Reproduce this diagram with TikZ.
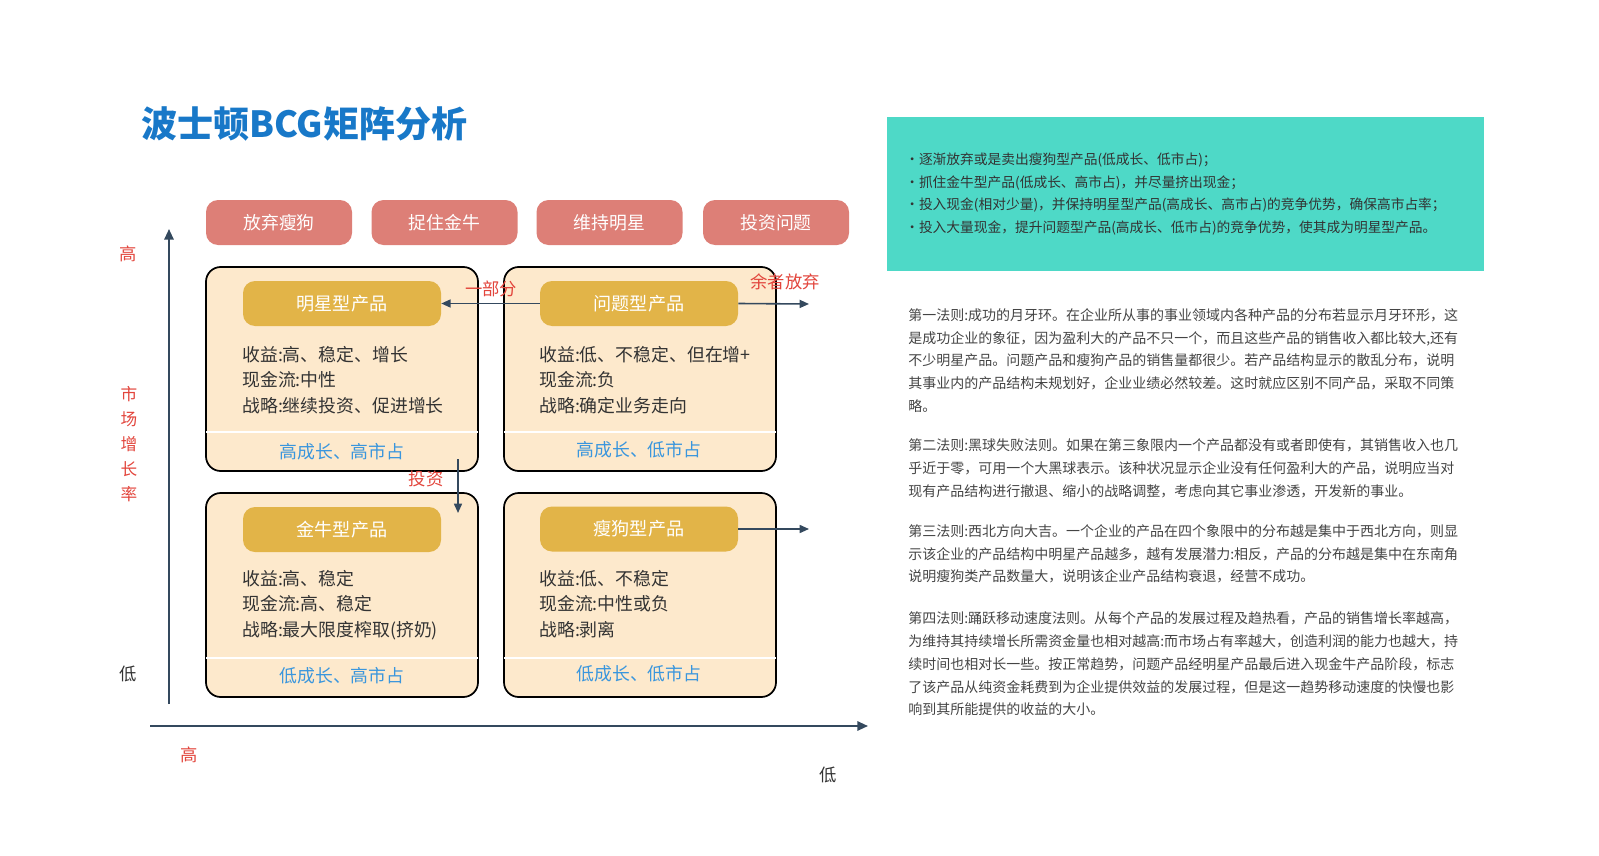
\documentclass[tikz,border=0pt]{standalone}
\usepackage{fontspec}
\setmainfont{Noto Sans CJK SC}
\usetikzlibrary{arrows.meta}

\definecolor{titleblue}{RGB}{24,120,200}
\definecolor{btnred}{RGB}{221,127,119}
\definecolor{peach}{RGB}{253,233,204}
\definecolor{gold}{RGB}{226,180,72}
\definecolor{tagblue}{RGB}{58,150,221}
\definecolor{notered}{RGB}{226,69,60}
\definecolor{axisblue}{RGB}{52,73,94}
\definecolor{tealbox}{RGB}{78,217,199}
\definecolor{textgray}{RGB}{51,51,51}
\definecolor{paragray}{RGB}{68,68,68}

\begin{document}
\begin{tikzpicture}[x=0.75pt, y=-0.75pt,
    btn/.style={fill=btnred, rounded corners=9pt, minimum width=109.5pt, minimum height=33.75pt,
        text=white, font=\fontsize{13.4pt}{16pt}\selectfont},
    quad/.style={fill=peach, draw=black, line width=1.3pt, rounded corners=11pt,
        minimum width=204pt, minimum height=153pt},
    ptitle/.style={fill=gold, rounded corners=9pt, minimum width=148.5pt, minimum height=33.75pt,
        text=white, font=\fontsize{13.6pt}{16pt}\selectfont},
    body/.style={anchor=west, align=left, inner sep=0pt, text=textgray,
        font=\fontsize{13.4pt}{19.1pt}\selectfont},
    tag/.style={text=tagblue, inner sep=0pt, font=\fontsize{13.4pt}{16pt}\selectfont},
    note/.style={text=notered, inner sep=0pt, font=\fontsize{13pt}{16pt}\selectfont},
    plain/.style={text=textgray, inner sep=0pt, font=\fontsize{13pt}{16pt}\selectfont},
    conn/.style={draw=axisblue, line width=1.2pt, -{Triangle[length=7pt,width=6pt]}},
    axis/.style={draw=axisblue, line width=1.5pt, -{Triangle[length=8pt,width=7pt]}},
    para/.style={anchor=west, align=left, inner sep=0pt, text=paragray,
        font=\fontsize{10.5pt}{17.1pt}\selectfont}]
    \useasboundingbox (0,0) rectangle (1599,856);

    % Title
    \node[anchor=west, inner sep=0pt, text=titleblue, font=\fontsize{27pt}{30pt}\selectfont\bfseries]
        (title) at (141,124) {波士顿BCG矩阵分析};

    % Strategy buttons
    \node[btn] (drop) at (279,222.5) {放弃瘦狗};
    \node[btn] (milk) at (444.5,222.5) {捉住金牛};
    \node[btn] (keep) at (609.5,222.5) {维持明星};
    \node[btn] (fund) at (776,222.5) {投资问题};

    % Quadrants
    \node[quad] (qstar) at (342,369) {};
    \node[quad] (qwen) at (640,369) {};
    \node[quad] (qcow) at (342,595) {};
    \node[quad] (qdog) at (640,595) {};
    \foreach \q in {qstar,qwen,qcow,qdog}
        \draw[white, line width=1.5pt] ([xshift=0.8pt,yshift=30pt]\q.south west) -- ([xshift=-0.8pt,yshift=30pt]\q.south east);

    % Product titles
    \node[ptitle] (star) at (342,303.5) {明星型产品};
    \node[ptitle] (wen) at (639,303.5) {问题型产品};
    \node[ptitle] (cow) at (342,529.5) {金牛型产品};
    \node[ptitle] (dog) at (639,529) {瘦狗型产品};

    % Product details
    \node[body] (starinfo) at (242,380) {收益:高、稳定、增长\\现金流:中性\\战略:继续投资、促进增长};
    \node[body] (weninfo) at (539,380) {收益:低、不稳定、但在增+\\现金流:负\\战略:确定业务走向};
    \node[body] (cowinfo) at (242,605) {收益:高、稳定\\现金流:高、稳定\\战略:最大限度榨取(挤奶)};
    \node[body] (doginfo) at (539,604) {收益:低、不稳定\\现金流:中性或负\\战略:剥离};

    % Quadrant tags
    \node[tag] (startag) at (342,452) {高成长、高市占};
    \node[tag] (wentag) at (639,450) {高成长、低市占};
    \node[tag] (cowtag) at (342,676) {低成长、高市占};
    \node[tag] (dogtag) at (639,674) {低成长、低市占};

    % Axes
    \coordinate (yfoot) at (169,704);
    \coordinate (ytop) at (169,229);
    \coordinate (xfoot) at (150,726);
    \coordinate (xend) at (868,726);
    \draw[axis] (yfoot) -- (ytop);
    \draw[axis] (xfoot) -- (xend);
    \node[note] (yhigh) at (128,254) {高};
    \node[note, align=center, font=\fontsize{12.5pt}{18.7pt}\selectfont] (ylabel) at (129,444) {市\\场\\增\\长\\率};
    \node[plain] (ylow) at (128,674) {低};
    \node[note] (xhigh) at (189,755) {高};
    \node[plain] (xlow) at (828,775) {低};

    % Flows
    \coordinate (giveup) at (809,304);
    \coordinate (dogout) at (809,529);
    \coordinate (investtop) at (458,459);
    \coordinate (investend) at (458,513);
    \draw[conn] (wen.west) -- (star.east);
    \draw[conn] (wen.east) -- (giveup);
    \draw[conn] (investtop) -- (investend);
    \draw[conn] (dog.east) -- (dogout);
    \node[note] (part) at (491,289) {一部分};
    \node[note] (rest) at (785,282) {余者放弃};
    \node[note] (invest) at (426,479) {投资};

    % Strategy notes
    \node[fill=tealbox, minimum width=447.75pt, minimum height=115.5pt] (tipbox) at (1185.5,194) {};
    \node[para, text=textgray, font=\fontsize{10.3pt}{17.1pt}\selectfont] (tips) at (905,194) {·逐渐放弃或是卖出瘦狗型产品(低成长、低市占)；\\·抓住金牛型产品(低成长、高市占)，并尽量挤出现金；\\·投入现金(相对少量)，并保持明星型产品(高成长、高市占)的竞争优势，确保高市占率；\\·投入大量现金，提升问题型产品(高成长、低市占)的竞争优势，使其成为明星型产品。};

    % Rules
    \node[para] (rule1) at (908,360.5) {第一法则:成功的月牙环。在企业所从事的事业领域内各种产品的分布若显示月牙环形，这\\是成功企业的象征，因为盈利大的产品不只一个，而且这些产品的销售收入都比较大,还有\\不少明星产品。问题产品和瘦狗产品的销售量都很少。若产品结构显示的散乱分布，说明\\其事业内的产品结构未规划好，企业业绩必然较差。这时就应区别不同产品，采取不同策\\略。};
    \node[para] (rule2) at (908,468.5) {第二法则:黑球失败法则。如果在第三象限内一个产品都没有或者即使有，其销售收入也几\\乎近于零，可用一个大黑球表示。该种状况显示企业没有任何盈利大的产品，说明应当对\\现有产品结构进行撤退、缩小的战略调整，考虑向其它事业渗透，开发新的事业。};
    \node[para] (rule3) at (908,554) {第三法则:西北方向大吉。一个企业的产品在四个象限中的分布越是集中于西北方向，则显\\示该企业的产品结构中明星产品越多，越有发展潜力:相反，产品的分布越是集中在东南角\\说明瘦狗类产品数量大，说明该企业产品结构衰退，经营不成功。};
    \node[para] (rule4) at (908,664) {第四法则:踊跃移动速度法则。从每个产品的发展过程及趋热看，产品的销售增长率越高，\\为维持其持续增长所需资金量也相对越高:而市场占有率越大，创造利润的能力也越大，持\\续时间也相对长一些。按正常趋势，问题产品经明星产品最后进入现金牛产品阶段，标志\\了该产品从纯资金耗费到为企业提供效益的发展过程，但是这一趋势移动速度的快慢也影\\响到其所能提供的收益的大小。};
\end{tikzpicture}
\end{document}
